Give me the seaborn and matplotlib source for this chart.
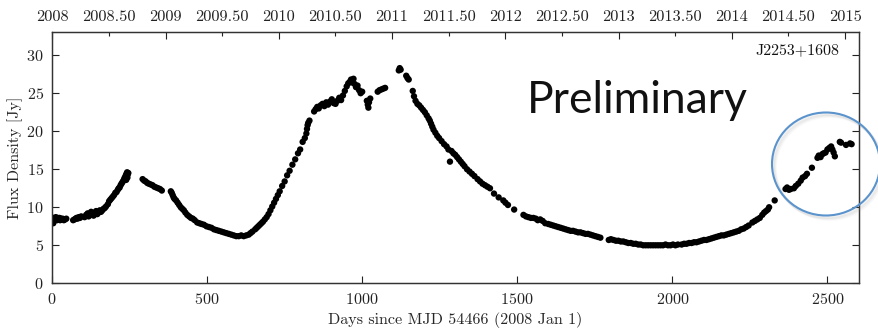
import matplotlib
matplotlib.use("Agg")
import matplotlib.pyplot as plt
from matplotlib.patches import Ellipse
import seaborn as sns
import pandas as pd

# Light curve of J2253+1608: days since MJD 54466 and flux density in Jy
days = [
    2, 4, 4, 6, 8, 10, 12, 14, 16, 18, 20, 22, 24, 26, 28, 30, 34, 38, 42, 46,
    68, 72, 76, 79, 82, 86, 90, 94,
    105, 110, 115, 118, 122, 126, 130, 134, 138, 142, 146, 150, 154, 158, 162, 166, 170, 174,
    180, 184, 188, 192, 196, 200, 204, 208, 212, 215, 218, 221, 224, 227, 230, 233, 236, 238,
    240, 242, 244, 246, 243, 239,
    292, 297, 302, 307, 312, 318, 324, 330, 336, 342, 348, 354,
    383, 386, 389, 392, 395, 400, 405, 410, 415, 420, 425, 430, 436, 442, 448, 454, 460, 468,
    475, 482, 490, 498, 506, 514, 522, 530, 538, 546, 554, 562, 570, 578, 586, 594, 602, 610,
    618, 626, 634, 640, 646,
    655, 660, 665, 670, 675, 680, 686, 692, 698, 704, 710, 716, 722, 728, 734, 742, 750, 758,
    766, 775, 784, 793, 800, 808, 815, 820, 822, 824, 826, 830,
    845, 850, 855, 860, 866, 872, 878, 884, 890, 896, 902, 908, 914, 920, 926, 932, 938, 944,
    950, 955, 960, 964, 968, 972, 976, 980, 985, 990, 995, 1000,
    1015, 1018, 1020, 1022, 1026,
    1050, 1056, 1062, 1068, 1074,
    1118, 1121, 1124, 1142, 1146, 1150, 1163, 1167, 1172, 1178, 1184, 1190, 1196, 1202, 1208,
    1214, 1218, 1222, 1226, 1230, 1236, 1242, 1248, 1256, 1264, 1272, 1278, 1283, 1288, 1294,
    1300, 1306, 1312, 1318, 1324, 1330, 1338, 1346, 1354, 1362, 1372, 1380, 1388, 1396, 1404,
    1412, 1425, 1440, 1455, 1462, 1470, 1490, 1520, 1528, 1536, 1544, 1552, 1560, 1566, 1574,
    1582, 1590,
    1600, 1608, 1616, 1624, 1632, 1640, 1648, 1656, 1664, 1672, 1680, 1688, 1696, 1704, 1712,
    1720, 1728, 1736, 1744, 1752, 1760, 1768,
    1795, 1802, 1810, 1818, 1826, 1834, 1842, 1850, 1858, 1866, 1874, 1882, 1890, 1898, 1906,
    1914, 1922, 1930, 1938, 1946, 1954, 1962, 1970, 1978, 1986, 1994, 2002, 2010, 2018, 2030,
    2038, 2046, 2054, 2062, 2070, 2078, 2086, 2094, 2102, 2110, 2118, 2126, 2134, 2142, 2150,
    2158, 2166, 2174, 2182, 2190, 2198, 2206, 2214, 2222, 2230, 2238, 2246, 2258, 2266, 2274,
    2282, 2290, 2296, 2302, 2308, 2312, 2330,
    2365, 2370, 2376, 2382, 2392, 2398, 2406, 2414, 2420, 2428, 2434, 2450, 2468, 2472, 2478,
    2484, 2488, 2494, 2500, 2506, 2512, 2516, 2520, 2524, 2540, 2544, 2560, 2573, 2578,
]
flux = [
    8.3, 8.6, 7.9, 8.2, 8.5, 8.4, 8.7, 8.5, 8.3, 8.6, 8.4, 8.5, 8.6, 8.3, 8.5, 8.4, 8.5, 8.3, 8.4, 8.5,
    8.3, 8.4, 8.5, 8.6, 8.5, 8.7, 8.6, 8.8,
    8.7, 9.0, 9.2, 8.8, 9.0, 9.4, 9.2, 8.9, 9.3, 9.5, 9.1, 9.3, 9.6, 9.4, 9.6, 9.8, 9.9, 10.1,
    10.4, 10.8, 11.0, 11.2, 11.4, 11.6, 11.9, 12.0, 12.3, 12.5, 12.6, 12.9, 13.1, 13.3, 13.5, 13.8, 14.0, 14.2,
    14.4, 14.6, 14.3, 14.5, 13.9, 13.6,
    13.7, 13.5, 13.4, 13.2, 13.1, 13.0, 12.9, 12.7, 12.6, 12.5, 12.4, 12.2,
    12.1, 11.9, 11.6, 11.3, 11.1, 10.9, 10.6, 10.3, 10.0, 9.8, 9.6, 9.3, 9.0, 8.8, 8.6, 8.5, 8.3, 8.0,
    7.9, 7.8, 7.7, 7.5, 7.4, 7.3, 7.1, 7.0, 6.9, 6.8, 6.7, 6.6, 6.5, 6.4, 6.3, 6.2, 6.2, 6.3,
    6.2, 6.3, 6.4, 6.6, 6.8,
    7.1, 7.3, 7.5, 7.7, 7.9, 8.1, 8.4, 8.7, 9.1, 9.6, 10.1, 10.6, 11.1, 11.6, 12.1, 12.8, 13.4, 14.2,
    14.8, 15.6, 16.3, 17.1, 17.6, 18.6, 19.1, 19.7, 20.3, 20.8, 21.1, 21.4,
    22.6, 22.9, 23.2, 23.0, 23.4, 23.6, 23.3, 23.8, 23.5, 23.9, 24.2, 23.7, 23.6, 24.0, 24.4, 24.1, 24.7, 25.3,
    25.9, 26.3, 26.5, 26.8, 26.4, 26.9, 26.2, 25.8, 26.0, 25.4, 25.0, 25.2,
    24.0, 23.5, 23.1, 23.8, 24.3,
    25.2, 25.4, 25.5, 25.6, 25.7,
    28.0, 28.3, 28.1, 27.3, 27.0, 26.8, 25.3, 24.6, 24.0, 23.6, 23.4, 23.1, 22.8, 22.5, 22.1,
    21.7, 21.4, 21.0, 20.6, 20.2, 19.8, 19.4, 19.1, 18.7, 18.3, 18.0, 17.6, 16.0, 17.4, 17.1,
    16.9, 16.6, 16.3, 16.0, 15.7, 15.4, 15.0, 14.7, 14.4, 14.1, 13.7, 13.4, 13.1, 12.9, 12.7,
    12.5, 11.8, 11.3, 10.9, 10.6, 10.3, 9.7, 9.0, 8.8, 8.7, 8.6, 8.6, 8.5, 8.3, 8.4,
    8.2, 7.9,
    7.8, 7.7, 7.6, 7.5, 7.4, 7.3, 7.2, 7.1, 7.0, 6.9, 6.9, 6.8, 6.7, 6.7, 6.6,
    6.5, 6.5, 6.4, 6.3, 6.2, 6.1, 6.0,
    5.7, 5.8, 5.7, 5.6, 5.6, 5.5, 5.5, 5.4, 5.3, 5.3, 5.2, 5.2, 5.1, 5.1, 5.0,
    5.0, 5.0, 5.0, 5.0, 5.0, 5.0, 5.0, 5.0, 5.1, 5.0, 5.0, 5.1, 5.0, 5.1, 5.1,
    5.2, 5.2, 5.3, 5.3, 5.4, 5.4, 5.5, 5.6, 5.7, 5.7, 5.8, 5.9, 6.0, 6.1, 6.2,
    6.3, 6.3, 6.4, 6.5, 6.6, 6.7, 6.8, 6.9, 7.1, 7.2, 7.4, 7.6, 8.0, 8.2, 8.4,
    8.6, 9.0, 9.3, 9.5, 9.7, 10.0, 10.9,
    12.4, 12.6, 12.3, 12.4, 12.5, 12.8, 13.1, 13.5, 13.9, 14.1, 14.4, 15.2, 16.5, 16.8, 16.6,
    17.0, 17.1, 17.2, 17.6, 17.8, 18.0, 17.6, 17.2, 16.7, 18.6, 18.5, 18.2, 18.4, 18.3,
]

# Calendar years along the top axis, placed at their day offsets
year_days = [0, 366, 731, 1096, 1461, 1827, 2192, 2557]
year_labels = ["2008", "2009", "2010", "2011", "2012", "2013", "2014", "2015"]
half_days = [183, 548.5, 913.5, 1278.5, 1644, 2009.5, 2374.5]
half_labels = ["2008.50", "2009.50", "2010.50", "2011.50", "2012.50", "2013.50", "2014.50"]

day_ticks = [0, 500, 1000, 1500, 2000, 2500]
flux_ticks = [0, 5, 10, 15, 20, 25, 30]

sns.set_theme(style="ticks")
plt.rcParams["font.family"] = ["cmr10", "DejaVu Serif"]
plt.rcParams["axes.formatter.use_mathtext"] = True
plt.rcParams["axes.unicode_minus"] = False

df = pd.DataFrame({"day": days, "flux": flux})

fig = plt.figure(figsize=(8.79, 3.29), dpi=100)
ax = fig.add_axes([0.0592, 0.1389, 0.9181, 0.7638])

sns.scatterplot(data=df, x="day", y="flux", ax=ax, color="black", s=21,
                linewidth=0, edgecolor="none", legend=False, zorder=3)

ax.set_xlim(0, 2602)
ax.set_ylim(0, 33.05)
ax.set_xticks(day_ticks)
ax.set_yticks(flux_ticks)
ax.set_xlabel("Days since MJD 54466 (2008 Jan 1)", fontsize=11.6, labelpad=4)
ax.set_ylabel("Flux Density [Jy]", fontsize=11.6, labelpad=2)
ax.tick_params(axis="both", direction="in", length=5, width=0.8, labelsize=11.6,
               colors="#222222", pad=6)
ax.tick_params(axis="y", right=True)
for sp in ax.spines.values():
    sp.set_linewidth(0.9)
    sp.set_color("#333333")
    sp.set_visible(True)

top = ax.twiny()
top.set_xlim(ax.get_xlim())
top.set_xticks(year_days, year_labels)
top.set_xticks(half_days, half_labels, minor=True)
top.tick_params(axis="x", which="major", direction="in", length=5, width=0.8,
                labelsize=11.8, pad=6, colors="#222222")
top.tick_params(axis="x", which="minor", direction="in", length=3, width=0.8,
                labelsize=11.8, pad=6, colors="#222222")
for sp in top.spines.values():
    sp.set_linewidth(0.9)
    sp.set_color("#333333")

ax.text(0.975, 0.955, "J2253+1608", transform=ax.transAxes, ha="right", va="top",
        fontsize=11.5, color="#111111")

fig.text(0.5995, 0.6565, "Preliminary", family=["Lato", "DejaVu Sans"], fontsize=32,
         color="#111111", ha="left", va="baseline")

# Highlight ring around the latest flare, with a soft drop shadow
cx, cy = 826 / 879, 1 - 164 / 329
w, h = 108 / 879, 103 / 329
for k, a in enumerate([0.10, 0.08, 0.05]):
    fig.patches.append(Ellipse((cx + (1.5 + k) / 879, cy - (2 + k) / 329), w, h,
                               transform=fig.transFigure, fill=False,
                               edgecolor="#888888", linewidth=2.0, alpha=a))
fig.patches.append(Ellipse((cx, cy), w, h, transform=fig.transFigure, fill=False,
                           edgecolor="#5B93CC", linewidth=1.5))

fig.savefig("out.png", dpi=100)
